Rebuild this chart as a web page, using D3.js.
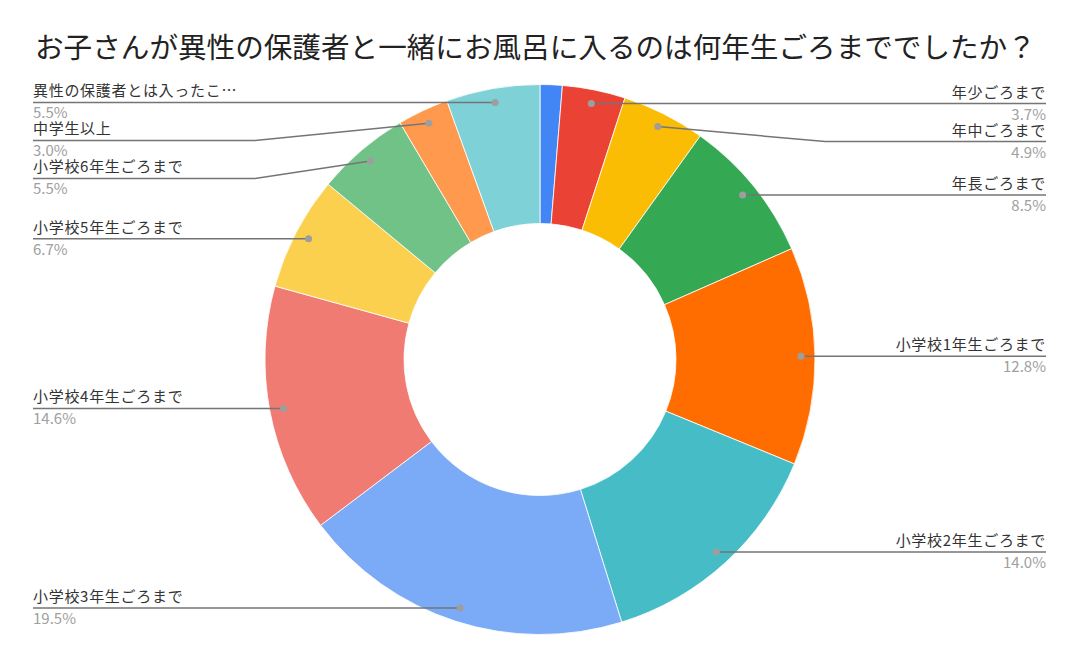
<!DOCTYPE html>
<html>
<head>
<meta charset="utf-8">
<script src="https://cdn.jsdelivr.net/npm/d3@7"></script>
<style>
  body { margin: 0; background: #fff; }
  text { font-family: "Noto Sans CJK JP", "Noto Sans", sans-serif; }
</style>
</head>
<body>
<svg id="chart" width="1080" height="668"></svg>
<script>

var title = "お子さんが異性の保護者と一緒にお風呂に入るのは何年生ごろまででしたか？";

// slices, clockwise from 12 o'clock (first one is too small to get a label)
var categories = [
    null,
    "年少ごろまで",
    "年中ごろまで",
    "年長ごろまで",
    "小学校1年生ごろまで",
    "小学校2年生ごろまで",
    "小学校3年生ごろまで",
    "小学校4年生ごろまで",
    "小学校5年生ごろまで",
    "小学校6年生ごろまで",
    "中学生以上",
    "異性の保護者とは入ったこ…"
];
var values = [1.3, 3.7, 4.9, 8.5, 12.8, 14.0, 19.5, 14.6, 6.7, 5.5, 3.0, 5.5];
var colors = ["#4285f4", "#ea4335", "#fbbc04", "#34a853", "#ff6d01", "#46bdc6",
              "#7baaf7", "#f07b72", "#fcd04f", "#71c287", "#ff994d", "#7ed1d7"];

var svg = d3.select("#chart");
var cx = 540, cy = 359.5, R = 275, r0 = 136;
var leftX = 33, rightX = 1046, minGap = 38;

svg.append("text")
    .attr("x", 35)
    .attr("y", 58)
    .style("font-size", "28.6px")
    .style("fill", "#222")
    .text(title);

var data = values.map(function(v, i) {
    return { name: categories[i], value: v, color: colors[i] };
});
var total = d3.sum(values);

var pie = d3.pie().sort(null).value(function(d) { return d.value; });
var arcs = pie(data);
var arc = d3.arc().innerRadius(r0).outerRadius(R);

var g = svg.append("g").attr("transform", "translate(" + cx + "," + cy + ")");

g.selectAll("path.slice")
    .data(arcs)
    .enter().append("path")
    .attr("class", "slice")
    .attr("d", arc)
    .style("fill", function(d) { return d.data.color; })
    .style("stroke", "#fff")
    .style("stroke-width", 0.8);

// label anchors: a dot inside each slice near the rim
var dotR = R - 14;
var labels = arcs.filter(function(d) { return d.data.name; }).map(function(d) {
    var a = (d.startAngle + d.endAngle) / 2;
    var x = dotR * Math.sin(a), y = -dotR * Math.cos(a);
    return { d: d, dx: x, dy: y, right: a < Math.PI, ly: y };
});

// nudge labels down on each side so they don't collide
[true, false].forEach(function(side) {
    var list = labels.filter(function(l) { return l.right === side; })
        .sort(function(a, b) { return a.dy - b.dy; });
    var prev = -Infinity;
    list.forEach(function(l) {
        l.ly = Math.max(l.dy, prev + minGap);
        prev = l.ly;
    });
});

var elbow = R + 10;

var lg = g.selectAll("g.label")
    .data(labels)
    .enter().append("g")
    .attr("class", "label");

lg.append("polyline")
    .attr("points", function(l) {
        var ex = l.right ? rightX - cx : leftX - cx;
        var bx = l.right ? elbow : -elbow;
        return [[ex, l.ly], [bx, l.ly], [l.dx, l.dy]].join(" ");
    })
    .style("fill", "none")
    .style("stroke", "#757575")
    .style("stroke-width", 1.5);

lg.append("circle")
    .attr("cx", function(l) { return l.dx; })
    .attr("cy", function(l) { return l.dy; })
    .attr("r", 3.5)
    .style("fill", "#9e9e9e");

lg.append("text")
    .attr("x", function(l) { return l.right ? rightX - cx : leftX - cx; })
    .attr("y", function(l) { return l.ly - 6; })
    .attr("text-anchor", function(l) { return l.right ? "end" : "start"; })
    .style("font-size", "15px")
    .style("letter-spacing", "0.7px")
    .style("fill", "#333")
    .text(function(l) { return l.d.data.name; });

lg.append("text")
    .attr("x", function(l) { return l.right ? rightX - cx : leftX - cx; })
    .attr("y", function(l) { return l.ly + 16; })
    .attr("text-anchor", function(l) { return l.right ? "end" : "start"; })
    .style("font-size", "15px")
    .style("fill", "#a0a0a0")
    .text(function(l) { return (l.d.data.value / total * 100).toFixed(1) + "%"; });

</script>
</body>
</html>
